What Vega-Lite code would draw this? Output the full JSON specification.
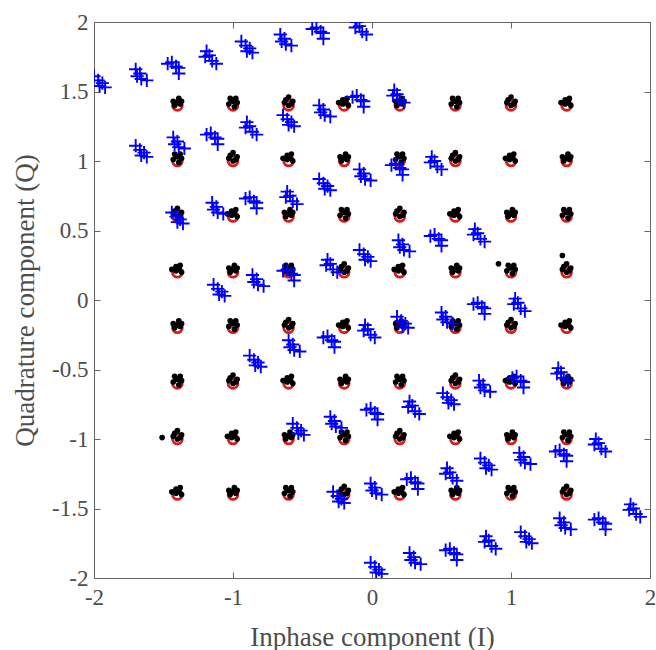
{
"$schema":"https://vega.github.io/schema/vega-lite/v6.json",
"width":556,"height":556,
"autosize":{"type":"none"},
"padding":{"left":94,"top":22,"right":6,"bottom":72},
"background":"white",
"config":{"view":{"stroke":null},
"axis":{"labelFont":"Liberation Serif","titleFont":"Liberation Serif","labelFontSize":23,"titleFontSize":27,"titleFontWeight":"normal","labelColor":"#4d4d4d","titleColor":"#4d4d4d","domainColor":"#666666","tickColor":"#666666","grid":false,"tickSize":-6,"labelFlush":false,"labelOverlap":false,"labelBound":false}},
"datasets":{
"ideal":[
{"x":-1.4,"y":1.4},{"x":-1.0,"y":1.4},{"x":-0.6,"y":1.4},{"x":-0.2,"y":1.4},{"x":0.2,"y":1.4},{"x":0.6,"y":1.4},{"x":1.0,"y":1.4},{"x":1.4,"y":1.4},
{"x":-1.4,"y":1.0},{"x":-1.0,"y":1.0},{"x":-0.6,"y":1.0},{"x":-0.2,"y":1.0},{"x":0.2,"y":1.0},{"x":0.6,"y":1.0},{"x":1.0,"y":1.0},{"x":1.4,"y":1.0},
{"x":-1.4,"y":0.6},{"x":-1.0,"y":0.6},{"x":-0.6,"y":0.6},{"x":-0.2,"y":0.6},{"x":0.2,"y":0.6},{"x":0.6,"y":0.6},{"x":1.0,"y":0.6},{"x":1.4,"y":0.6},
{"x":-1.4,"y":0.2},{"x":-1.0,"y":0.2},{"x":-0.6,"y":0.2},{"x":-0.2,"y":0.2},{"x":0.2,"y":0.2},{"x":0.6,"y":0.2},{"x":1.0,"y":0.2},{"x":1.4,"y":0.2},
{"x":-1.4,"y":-0.2},{"x":-1.0,"y":-0.2},{"x":-0.6,"y":-0.2},{"x":-0.2,"y":-0.2},{"x":0.2,"y":-0.2},{"x":0.6,"y":-0.2},{"x":1.0,"y":-0.2},{"x":1.4,"y":-0.2},
{"x":-1.4,"y":-0.6},{"x":-1.0,"y":-0.6},{"x":-0.6,"y":-0.6},{"x":-0.2,"y":-0.6},{"x":0.2,"y":-0.6},{"x":0.6,"y":-0.6},{"x":1.0,"y":-0.6},{"x":1.4,"y":-0.6},
{"x":-1.4,"y":-1.0},{"x":-1.0,"y":-1.0},{"x":-0.6,"y":-1.0},{"x":-0.2,"y":-1.0},{"x":0.2,"y":-1.0},{"x":0.6,"y":-1.0},{"x":1.0,"y":-1.0},{"x":1.4,"y":-1.0},
{"x":-1.4,"y":-1.4},{"x":-1.0,"y":-1.4},{"x":-0.6,"y":-1.4},{"x":-0.2,"y":-1.4},{"x":0.2,"y":-1.4},{"x":0.6,"y":-1.4},{"x":1.0,"y":-1.4},{"x":1.4,"y":-1.4}
],
"rx":[
{"x":-1.43,"y":1.43},{"x":-1.39,"y":1.45},{"x":-1.38,"y":1.41},{"x":-1.42,"y":1.40},{"x":-1.37,"y":1.43},{"x":-1.40,"y":1.42},
{"x":-1.02,"y":1.45},{"x":-0.97,"y":1.42},{"x":-1.03,"y":1.41},{"x":-0.99,"y":1.39},{"x":-1.00,"y":1.43},{"x":-0.98,"y":1.45},
{"x":-0.60,"y":1.46},{"x":-0.63,"y":1.42},{"x":-0.57,"y":1.43},{"x":-0.60,"y":1.40},{"x":-0.62,"y":1.44},{"x":-0.58,"y":1.41},
{"x":-0.24,"y":1.42},{"x":-0.18,"y":1.45},{"x":-0.17,"y":1.40},{"x":-0.21,"y":1.41},{"x":-0.21,"y":1.44},{"x":-0.19,"y":1.42},
{"x":0.17,"y":1.43},{"x":0.21,"y":1.45},{"x":0.22,"y":1.41},{"x":0.18,"y":1.40},{"x":0.23,"y":1.43},{"x":0.20,"y":1.42},
{"x":0.58,"y":1.45},{"x":0.63,"y":1.42},{"x":0.57,"y":1.41},{"x":0.61,"y":1.39},{"x":0.60,"y":1.43},{"x":0.62,"y":1.45},
{"x":1.00,"y":1.46},{"x":0.97,"y":1.42},{"x":1.03,"y":1.43},{"x":1.00,"y":1.40},{"x":0.98,"y":1.44},{"x":1.02,"y":1.41},
{"x":1.36,"y":1.42},{"x":1.42,"y":1.45},{"x":1.43,"y":1.40},{"x":1.39,"y":1.41},{"x":1.39,"y":1.44},{"x":1.41,"y":1.42},
{"x":-1.42,"y":1.05},{"x":-1.37,"y":1.02},{"x":-1.43,"y":1.01},{"x":-1.39,"y":0.99},{"x":-1.40,"y":1.03},{"x":-1.38,"y":1.05},
{"x":-1.00,"y":1.06},{"x":-1.03,"y":1.02},{"x":-0.97,"y":1.03},{"x":-1.00,"y":1.00},{"x":-1.02,"y":1.04},{"x":-0.98,"y":1.01},
{"x":-0.64,"y":1.02},{"x":-0.58,"y":1.05},{"x":-0.57,"y":1.00},{"x":-0.61,"y":1.01},{"x":-0.61,"y":1.04},{"x":-0.59,"y":1.02},
{"x":-0.23,"y":1.03},{"x":-0.19,"y":1.05},{"x":-0.18,"y":1.01},{"x":-0.22,"y":1.00},{"x":-0.17,"y":1.03},{"x":-0.20,"y":1.02},
{"x":0.18,"y":1.05},{"x":0.23,"y":1.02},{"x":0.17,"y":1.01},{"x":0.21,"y":0.99},{"x":0.20,"y":1.03},{"x":0.22,"y":1.05},
{"x":0.60,"y":1.06},{"x":0.57,"y":1.02},{"x":0.63,"y":1.03},{"x":0.60,"y":1.00},{"x":0.58,"y":1.04},{"x":0.62,"y":1.01},
{"x":0.96,"y":1.02},{"x":1.02,"y":1.05},{"x":1.03,"y":1.00},{"x":0.99,"y":1.01},{"x":0.99,"y":1.04},{"x":1.01,"y":1.02},
{"x":1.37,"y":1.03},{"x":1.41,"y":1.05},{"x":1.42,"y":1.01},{"x":1.38,"y":1.00},{"x":1.43,"y":1.03},{"x":1.40,"y":1.02},
{"x":-1.40,"y":0.66},{"x":-1.43,"y":0.62},{"x":-1.37,"y":0.63},{"x":-1.40,"y":0.60},{"x":-1.42,"y":0.64},{"x":-1.38,"y":0.61},
{"x":-1.04,"y":0.62},{"x":-0.98,"y":0.65},{"x":-0.97,"y":0.60},{"x":-1.01,"y":0.61},{"x":-1.01,"y":0.64},{"x":-0.99,"y":0.62},
{"x":-0.63,"y":0.63},{"x":-0.59,"y":0.65},{"x":-0.58,"y":0.61},{"x":-0.62,"y":0.60},{"x":-0.57,"y":0.63},{"x":-0.60,"y":0.62},
{"x":-0.22,"y":0.65},{"x":-0.17,"y":0.62},{"x":-0.23,"y":0.61},{"x":-0.19,"y":0.59},{"x":-0.20,"y":0.63},{"x":-0.18,"y":0.65},
{"x":0.20,"y":0.66},{"x":0.17,"y":0.62},{"x":0.23,"y":0.63},{"x":0.20,"y":0.60},{"x":0.18,"y":0.64},{"x":0.22,"y":0.61},
{"x":0.56,"y":0.62},{"x":0.62,"y":0.65},{"x":0.63,"y":0.60},{"x":0.59,"y":0.61},{"x":0.59,"y":0.64},{"x":0.61,"y":0.62},
{"x":0.97,"y":0.63},{"x":1.01,"y":0.65},{"x":1.02,"y":0.61},{"x":0.98,"y":0.60},{"x":1.03,"y":0.63},{"x":1.00,"y":0.62},
{"x":1.38,"y":0.65},{"x":1.43,"y":0.62},{"x":1.37,"y":0.61},{"x":1.41,"y":0.59},{"x":1.40,"y":0.63},{"x":1.42,"y":0.65},
{"x":-1.44,"y":0.22},{"x":-1.38,"y":0.25},{"x":-1.37,"y":0.20},{"x":-1.41,"y":0.21},{"x":-1.41,"y":0.24},{"x":-1.39,"y":0.22},
{"x":-1.03,"y":0.23},{"x":-0.99,"y":0.25},{"x":-0.98,"y":0.21},{"x":-1.02,"y":0.20},{"x":-0.97,"y":0.23},{"x":-1.00,"y":0.22},
{"x":-0.62,"y":0.25},{"x":-0.57,"y":0.22},{"x":-0.63,"y":0.21},{"x":-0.59,"y":0.19},{"x":-0.60,"y":0.23},{"x":-0.58,"y":0.25},
{"x":-0.20,"y":0.26},{"x":-0.23,"y":0.22},{"x":-0.17,"y":0.23},{"x":-0.20,"y":0.20},{"x":-0.22,"y":0.24},{"x":-0.18,"y":0.21},
{"x":0.16,"y":0.22},{"x":0.22,"y":0.25},{"x":0.23,"y":0.20},{"x":0.19,"y":0.21},{"x":0.19,"y":0.24},{"x":0.21,"y":0.22},
{"x":0.57,"y":0.23},{"x":0.61,"y":0.25},{"x":0.62,"y":0.21},{"x":0.58,"y":0.20},{"x":0.63,"y":0.23},{"x":0.60,"y":0.22},
{"x":0.98,"y":0.25},{"x":1.03,"y":0.22},{"x":0.97,"y":0.21},{"x":1.01,"y":0.19},{"x":1.00,"y":0.23},{"x":1.02,"y":0.25},
{"x":1.40,"y":0.26},{"x":1.37,"y":0.22},{"x":1.43,"y":0.23},{"x":1.40,"y":0.20},{"x":1.38,"y":0.24},{"x":1.42,"y":0.21},
{"x":-1.43,"y":-0.17},{"x":-1.39,"y":-0.15},{"x":-1.38,"y":-0.19},{"x":-1.42,"y":-0.20},{"x":-1.37,"y":-0.17},{"x":-1.40,"y":-0.18},
{"x":-1.02,"y":-0.15},{"x":-0.97,"y":-0.18},{"x":-1.03,"y":-0.19},{"x":-0.99,"y":-0.21},{"x":-1.00,"y":-0.17},{"x":-0.98,"y":-0.15},
{"x":-0.60,"y":-0.14},{"x":-0.63,"y":-0.18},{"x":-0.57,"y":-0.17},{"x":-0.60,"y":-0.20},{"x":-0.62,"y":-0.16},{"x":-0.58,"y":-0.19},
{"x":-0.24,"y":-0.18},{"x":-0.18,"y":-0.15},{"x":-0.17,"y":-0.20},{"x":-0.21,"y":-0.19},{"x":-0.21,"y":-0.16},{"x":-0.19,"y":-0.18},
{"x":0.17,"y":-0.17},{"x":0.21,"y":-0.15},{"x":0.22,"y":-0.19},{"x":0.18,"y":-0.20},{"x":0.23,"y":-0.17},{"x":0.20,"y":-0.18},
{"x":0.58,"y":-0.15},{"x":0.63,"y":-0.18},{"x":0.57,"y":-0.19},{"x":0.61,"y":-0.21},{"x":0.60,"y":-0.17},{"x":0.62,"y":-0.15},
{"x":1.00,"y":-0.14},{"x":0.97,"y":-0.18},{"x":1.03,"y":-0.17},{"x":1.00,"y":-0.20},{"x":0.98,"y":-0.16},{"x":1.02,"y":-0.19},
{"x":1.36,"y":-0.18},{"x":1.42,"y":-0.15},{"x":1.43,"y":-0.20},{"x":1.39,"y":-0.19},{"x":1.39,"y":-0.16},{"x":1.41,"y":-0.18},
{"x":-1.42,"y":-0.55},{"x":-1.37,"y":-0.58},{"x":-1.43,"y":-0.59},{"x":-1.39,"y":-0.61},{"x":-1.40,"y":-0.57},{"x":-1.38,"y":-0.55},
{"x":-1.00,"y":-0.54},{"x":-1.03,"y":-0.58},{"x":-0.97,"y":-0.57},{"x":-1.00,"y":-0.60},{"x":-1.02,"y":-0.56},{"x":-0.98,"y":-0.59},
{"x":-0.64,"y":-0.58},{"x":-0.58,"y":-0.55},{"x":-0.57,"y":-0.60},{"x":-0.61,"y":-0.59},{"x":-0.61,"y":-0.56},{"x":-0.59,"y":-0.58},
{"x":-0.23,"y":-0.57},{"x":-0.19,"y":-0.55},{"x":-0.18,"y":-0.59},{"x":-0.22,"y":-0.60},{"x":-0.17,"y":-0.57},{"x":-0.20,"y":-0.58},
{"x":0.18,"y":-0.55},{"x":0.23,"y":-0.58},{"x":0.17,"y":-0.59},{"x":0.21,"y":-0.61},{"x":0.20,"y":-0.57},{"x":0.22,"y":-0.55},
{"x":0.60,"y":-0.54},{"x":0.57,"y":-0.58},{"x":0.63,"y":-0.57},{"x":0.60,"y":-0.60},{"x":0.58,"y":-0.56},{"x":0.62,"y":-0.59},
{"x":0.96,"y":-0.58},{"x":1.02,"y":-0.55},{"x":1.03,"y":-0.60},{"x":0.99,"y":-0.59},{"x":0.99,"y":-0.56},{"x":1.01,"y":-0.58},
{"x":1.37,"y":-0.57},{"x":1.41,"y":-0.55},{"x":1.42,"y":-0.59},{"x":1.38,"y":-0.60},{"x":1.43,"y":-0.57},{"x":1.40,"y":-0.58},
{"x":-1.40,"y":-0.94},{"x":-1.43,"y":-0.98},{"x":-1.37,"y":-0.97},{"x":-1.40,"y":-1.00},{"x":-1.42,"y":-0.96},{"x":-1.38,"y":-0.99},
{"x":-1.04,"y":-0.98},{"x":-0.98,"y":-0.95},{"x":-0.97,"y":-1.00},{"x":-1.01,"y":-0.99},{"x":-1.01,"y":-0.96},{"x":-0.99,"y":-0.98},
{"x":-0.63,"y":-0.97},{"x":-0.59,"y":-0.95},{"x":-0.58,"y":-0.99},{"x":-0.62,"y":-1.00},{"x":-0.57,"y":-0.97},{"x":-0.60,"y":-0.98},
{"x":-0.22,"y":-0.95},{"x":-0.17,"y":-0.98},{"x":-0.23,"y":-0.99},{"x":-0.19,"y":-1.01},{"x":-0.20,"y":-0.97},{"x":-0.18,"y":-0.95},
{"x":0.20,"y":-0.94},{"x":0.17,"y":-0.98},{"x":0.23,"y":-0.97},{"x":0.20,"y":-1.00},{"x":0.18,"y":-0.96},{"x":0.22,"y":-0.99},
{"x":0.56,"y":-0.98},{"x":0.62,"y":-0.95},{"x":0.63,"y":-1.00},{"x":0.59,"y":-0.99},{"x":0.59,"y":-0.96},{"x":0.61,"y":-0.98},
{"x":0.97,"y":-0.97},{"x":1.01,"y":-0.95},{"x":1.02,"y":-0.99},{"x":0.98,"y":-1.00},{"x":1.03,"y":-0.97},{"x":1.00,"y":-0.98},
{"x":1.38,"y":-0.95},{"x":1.43,"y":-0.98},{"x":1.37,"y":-0.99},{"x":1.41,"y":-1.01},{"x":1.40,"y":-0.97},{"x":1.42,"y":-0.95},
{"x":-1.44,"y":-1.38},{"x":-1.38,"y":-1.35},{"x":-1.37,"y":-1.40},{"x":-1.41,"y":-1.39},{"x":-1.41,"y":-1.36},{"x":-1.39,"y":-1.38},
{"x":-1.03,"y":-1.37},{"x":-0.99,"y":-1.35},{"x":-0.98,"y":-1.39},{"x":-1.02,"y":-1.40},{"x":-0.97,"y":-1.37},{"x":-1.00,"y":-1.38},
{"x":-0.62,"y":-1.35},{"x":-0.57,"y":-1.38},{"x":-0.63,"y":-1.39},{"x":-0.59,"y":-1.41},{"x":-0.60,"y":-1.37},{"x":-0.58,"y":-1.35},
{"x":-0.20,"y":-1.34},{"x":-0.23,"y":-1.38},{"x":-0.17,"y":-1.37},{"x":-0.20,"y":-1.40},{"x":-0.22,"y":-1.36},{"x":-0.18,"y":-1.39},
{"x":0.16,"y":-1.38},{"x":0.22,"y":-1.35},{"x":0.23,"y":-1.40},{"x":0.19,"y":-1.39},{"x":0.19,"y":-1.36},{"x":0.21,"y":-1.38},
{"x":0.57,"y":-1.37},{"x":0.61,"y":-1.35},{"x":0.62,"y":-1.39},{"x":0.58,"y":-1.40},{"x":0.63,"y":-1.37},{"x":0.60,"y":-1.38},
{"x":0.98,"y":-1.35},{"x":1.03,"y":-1.38},{"x":0.97,"y":-1.39},{"x":1.01,"y":-1.41},{"x":1.00,"y":-1.37},{"x":1.02,"y":-1.35},
{"x":1.40,"y":-1.34},{"x":1.37,"y":-1.38},{"x":1.43,"y":-1.37},{"x":1.40,"y":-1.40},{"x":1.38,"y":-1.36},{"x":1.42,"y":-1.39},
{"x":-1.51,"y":-0.99},{"x":0.91,"y":0.26},{"x":1.37,"y":0.32}
],
"blue":[
{"x":-2.00,"y":1.61},{"x":-1.97,"y":1.58},{"x":-1.94,"y":1.56},{"x":-1.92,"y":1.53},{"x":-1.96,"y":1.54},
{"x":-1.70,"y":1.66},{"x":-1.67,"y":1.63},{"x":-1.66,"y":1.59},{"x":-1.62,"y":1.58},{"x":-1.69,"y":1.61},
{"x":-1.47,"y":1.70},{"x":-1.44,"y":1.71},{"x":-1.41,"y":1.68},{"x":-1.39,"y":1.63},{"x":-1.39,"y":1.67},
{"x":-1.19,"y":1.79},{"x":-1.20,"y":1.75},{"x":-1.17,"y":1.76},{"x":-1.15,"y":1.72},{"x":-1.12,"y":1.70},
{"x":-0.94,"y":1.86},{"x":-0.91,"y":1.83},{"x":-0.88,"y":1.81},{"x":-0.86,"y":1.78},{"x":-0.90,"y":1.79},
{"x":-0.66,"y":1.91},{"x":-0.63,"y":1.88},{"x":-0.62,"y":1.84},{"x":-0.58,"y":1.83},{"x":-0.65,"y":1.86},
{"x":-0.43,"y":1.95},{"x":-0.40,"y":1.96},{"x":-0.37,"y":1.93},{"x":-0.35,"y":1.88},{"x":-0.35,"y":1.92},
{"x":-0.11,"y":2.00},{"x":-0.12,"y":1.96},{"x":-0.09,"y":1.97},{"x":-0.07,"y":1.93},{"x":-0.04,"y":1.91},
{"x":-1.70,"y":1.11},{"x":-1.67,"y":1.08},{"x":-1.64,"y":1.06},{"x":-1.62,"y":1.03},{"x":-1.66,"y":1.04},
{"x":-1.43,"y":1.17},{"x":-1.40,"y":1.14},{"x":-1.39,"y":1.10},{"x":-1.35,"y":1.09},{"x":-1.42,"y":1.12},
{"x":-1.19,"y":1.19},{"x":-1.16,"y":1.20},{"x":-1.13,"y":1.17},{"x":-1.11,"y":1.12},{"x":-1.11,"y":1.16},
{"x":-0.90,"y":1.28},{"x":-0.91,"y":1.24},{"x":-0.88,"y":1.25},{"x":-0.86,"y":1.21},{"x":-0.83,"y":1.19},
{"x":-0.64,"y":1.33},{"x":-0.61,"y":1.30},{"x":-0.58,"y":1.28},{"x":-0.56,"y":1.25},{"x":-0.60,"y":1.26},
{"x":-0.38,"y":1.40},{"x":-0.35,"y":1.37},{"x":-0.34,"y":1.33},{"x":-0.30,"y":1.32},{"x":-0.37,"y":1.35},
{"x":-0.14,"y":1.46},{"x":-0.11,"y":1.47},{"x":-0.08,"y":1.44},{"x":-0.06,"y":1.39},{"x":-0.06,"y":1.43},
{"x":0.16,"y":1.51},{"x":0.15,"y":1.47},{"x":0.18,"y":1.48},{"x":0.20,"y":1.44},{"x":0.23,"y":1.42},
{"x":-1.44,"y":0.63},{"x":-1.41,"y":0.60},{"x":-1.38,"y":0.58},{"x":-1.36,"y":0.55},{"x":-1.40,"y":0.56},
{"x":-1.15,"y":0.70},{"x":-1.12,"y":0.67},{"x":-1.11,"y":0.63},{"x":-1.07,"y":0.62},{"x":-1.14,"y":0.65},
{"x":-0.91,"y":0.73},{"x":-0.88,"y":0.74},{"x":-0.85,"y":0.71},{"x":-0.83,"y":0.66},{"x":-0.83,"y":0.70},
{"x":-0.61,"y":0.78},{"x":-0.62,"y":0.74},{"x":-0.59,"y":0.75},{"x":-0.57,"y":0.71},{"x":-0.54,"y":0.69},
{"x":-0.38,"y":0.87},{"x":-0.35,"y":0.84},{"x":-0.32,"y":0.82},{"x":-0.30,"y":0.79},{"x":-0.34,"y":0.80},
{"x":-0.09,"y":0.94},{"x":-0.06,"y":0.91},{"x":-0.05,"y":0.87},{"x":-0.01,"y":0.86},{"x":-0.08,"y":0.89},
{"x":0.14,"y":0.97},{"x":0.17,"y":0.98},{"x":0.20,"y":0.95},{"x":0.22,"y":0.90},{"x":0.22,"y":0.94},
{"x":0.43,"y":1.03},{"x":0.42,"y":0.99},{"x":0.45,"y":1.00},{"x":0.47,"y":0.96},{"x":0.50,"y":0.94},
{"x":-1.14,"y":0.11},{"x":-1.11,"y":0.08},{"x":-1.08,"y":0.06},{"x":-1.06,"y":0.03},{"x":-1.10,"y":0.04},
{"x":-0.86,"y":0.18},{"x":-0.83,"y":0.15},{"x":-0.82,"y":0.11},{"x":-0.78,"y":0.10},{"x":-0.85,"y":0.13},
{"x":-0.64,"y":0.21},{"x":-0.61,"y":0.22},{"x":-0.58,"y":0.19},{"x":-0.56,"y":0.14},{"x":-0.56,"y":0.18},
{"x":-0.32,"y":0.29},{"x":-0.33,"y":0.25},{"x":-0.30,"y":0.26},{"x":-0.28,"y":0.22},{"x":-0.25,"y":0.20},
{"x":-0.09,"y":0.36},{"x":-0.06,"y":0.33},{"x":-0.03,"y":0.31},{"x":-0.01,"y":0.28},{"x":-0.05,"y":0.29},
{"x":0.19,"y":0.43},{"x":0.22,"y":0.40},{"x":0.23,"y":0.36},{"x":0.27,"y":0.35},{"x":0.20,"y":0.38},
{"x":0.42,"y":0.46},{"x":0.45,"y":0.47},{"x":0.48,"y":0.44},{"x":0.50,"y":0.39},{"x":0.50,"y":0.43},
{"x":0.74,"y":0.51},{"x":0.73,"y":0.47},{"x":0.76,"y":0.48},{"x":0.78,"y":0.44},{"x":0.81,"y":0.42},
{"x":-0.88,"y":-0.40},{"x":-0.85,"y":-0.43},{"x":-0.82,"y":-0.45},{"x":-0.80,"y":-0.48},{"x":-0.84,"y":-0.47},
{"x":-0.60,"y":-0.29},{"x":-0.57,"y":-0.32},{"x":-0.56,"y":-0.36},{"x":-0.52,"y":-0.37},{"x":-0.59,"y":-0.34},
{"x":-0.35,"y":-0.27},{"x":-0.32,"y":-0.26},{"x":-0.29,"y":-0.29},{"x":-0.27,"y":-0.34},{"x":-0.27,"y":-0.30},
{"x":-0.05,"y":-0.18},{"x":-0.06,"y":-0.22},{"x":-0.03,"y":-0.21},{"x":-0.01,"y":-0.25},{"x":0.02,"y":-0.27},
{"x":0.18,"y":-0.12},{"x":0.21,"y":-0.15},{"x":0.24,"y":-0.17},{"x":0.26,"y":-0.20},{"x":0.22,"y":-0.19},
{"x":0.50,"y":-0.09},{"x":0.53,"y":-0.12},{"x":0.54,"y":-0.16},{"x":0.58,"y":-0.17},{"x":0.51,"y":-0.14},
{"x":0.73,"y":-0.03},{"x":0.76,"y":-0.02},{"x":0.79,"y":-0.05},{"x":0.81,"y":-0.10},{"x":0.81,"y":-0.06},
{"x":1.03,"y":0.01},{"x":1.02,"y":-0.03},{"x":1.05,"y":-0.02},{"x":1.07,"y":-0.06},{"x":1.10,"y":-0.08},
{"x":-0.57,"y":-0.89},{"x":-0.54,"y":-0.92},{"x":-0.51,"y":-0.94},{"x":-0.49,"y":-0.97},{"x":-0.53,"y":-0.96},
{"x":-0.30,"y":-0.84},{"x":-0.27,"y":-0.87},{"x":-0.26,"y":-0.91},{"x":-0.22,"y":-0.92},{"x":-0.29,"y":-0.89},
{"x":-0.04,"y":-0.79},{"x":-0.01,"y":-0.78},{"x":0.02,"y":-0.81},{"x":0.04,"y":-0.86},{"x":0.04,"y":-0.82},
{"x":0.27,"y":-0.73},{"x":0.26,"y":-0.77},{"x":0.29,"y":-0.76},{"x":0.31,"y":-0.80},{"x":0.34,"y":-0.82},
{"x":0.51,"y":-0.67},{"x":0.54,"y":-0.70},{"x":0.57,"y":-0.72},{"x":0.59,"y":-0.75},{"x":0.55,"y":-0.74},
{"x":0.77,"y":-0.58},{"x":0.80,"y":-0.61},{"x":0.81,"y":-0.65},{"x":0.85,"y":-0.66},{"x":0.78,"y":-0.63},
{"x":1.01,"y":-0.56},{"x":1.04,"y":-0.55},{"x":1.07,"y":-0.58},{"x":1.09,"y":-0.63},{"x":1.09,"y":-0.59},
{"x":1.34,"y":-0.49},{"x":1.33,"y":-0.53},{"x":1.36,"y":-0.52},{"x":1.38,"y":-0.56},{"x":1.41,"y":-0.58},
{"x":-0.28,"y":-1.38},{"x":-0.25,"y":-1.41},{"x":-0.22,"y":-1.43},{"x":-0.20,"y":-1.46},{"x":-0.24,"y":-1.45},
{"x":-0.01,"y":-1.32},{"x":0.02,"y":-1.35},{"x":0.03,"y":-1.39},{"x":0.07,"y":-1.40},{"x":0.00,"y":-1.37},
{"x":0.25,"y":-1.29},{"x":0.28,"y":-1.28},{"x":0.31,"y":-1.31},{"x":0.33,"y":-1.36},{"x":0.33,"y":-1.32},
{"x":0.54,"y":-1.21},{"x":0.53,"y":-1.25},{"x":0.56,"y":-1.24},{"x":0.58,"y":-1.28},{"x":0.61,"y":-1.30},
{"x":0.78,"y":-1.14},{"x":0.81,"y":-1.17},{"x":0.84,"y":-1.19},{"x":0.86,"y":-1.22},{"x":0.82,"y":-1.21},
{"x":1.06,"y":-1.10},{"x":1.09,"y":-1.13},{"x":1.10,"y":-1.17},{"x":1.14,"y":-1.18},{"x":1.07,"y":-1.15},
{"x":1.32,"y":-1.09},{"x":1.35,"y":-1.08},{"x":1.38,"y":-1.11},{"x":1.40,"y":-1.16},{"x":1.40,"y":-1.12},
{"x":1.61,"y":-1.00},{"x":1.60,"y":-1.04},{"x":1.63,"y":-1.03},{"x":1.65,"y":-1.07},{"x":1.68,"y":-1.09},
{"x":-0.01,"y":-1.89},{"x":0.02,"y":-1.92},{"x":0.05,"y":-1.94},{"x":0.07,"y":-1.97},{"x":0.03,"y":-1.96},
{"x":0.27,"y":-1.82},{"x":0.30,"y":-1.85},{"x":0.31,"y":-1.89},{"x":0.35,"y":-1.90},{"x":0.28,"y":-1.87},
{"x":0.53,"y":-1.80},{"x":0.56,"y":-1.79},{"x":0.59,"y":-1.82},{"x":0.61,"y":-1.87},{"x":0.61,"y":-1.83},
{"x":0.82,"y":-1.70},{"x":0.81,"y":-1.74},{"x":0.84,"y":-1.73},{"x":0.86,"y":-1.77},{"x":0.89,"y":-1.79},
{"x":1.07,"y":-1.67},{"x":1.10,"y":-1.70},{"x":1.13,"y":-1.72},{"x":1.15,"y":-1.75},{"x":1.11,"y":-1.74},
{"x":1.35,"y":-1.57},{"x":1.38,"y":-1.60},{"x":1.39,"y":-1.64},{"x":1.43,"y":-1.65},{"x":1.36,"y":-1.62},
{"x":1.60,"y":-1.58},{"x":1.63,"y":-1.57},{"x":1.66,"y":-1.60},{"x":1.68,"y":-1.65},{"x":1.68,"y":-1.61},
{"x":1.86,"y":-1.47},{"x":1.85,"y":-1.51},{"x":1.88,"y":-1.50},{"x":1.90,"y":-1.54},{"x":1.93,"y":-1.56}
]},
"layer":[
{"data":{"name":"ideal"},
"mark":{"type":"point","shape":"circle","filled":false,"color":"#d81c1c","strokeWidth":2.8,"size":95,"opacity":1,"clip":true},
"encoding":{
"x":{"field":"x","type":"quantitative","scale":{"domain":[-2,2],"nice":false,"zero":false},
"axis":{"orient":"bottom","values":[-2,-1,0,1,2],"labelExpr":"toString(datum.value)","labelPadding":14,"title":"Inphase component (I)","titleX":278,"titleY":67,"titleAnchor":null,"titleAlign":"center","titleBaseline":"alphabetic"}},
"y":{"field":"y","type":"quantitative","scale":{"domain":[-2,2],"nice":false,"zero":false},
"axis":{"orient":"left","values":[-2,-1.5,-1,-0.5,0,0.5,1,1.5,2],"labelExpr":"toString(datum.value)","labelPadding":12,"title":"Quadrature component (Q)","titleX":-61,"titleY":278,"titleAngle":-90,"titleAlign":"center","titleBaseline":"alphabetic"}}}},
{"data":{"name":"rx"},
"mark":{"type":"point","shape":"circle","filled":true,"color":"#000000","size":32,"opacity":1,"clip":true},
"encoding":{
"x":{"field":"x","type":"quantitative","scale":{"domain":[-2,2],"nice":false,"zero":false},
"axis":{"orient":"top","values":[-2,-1,0,1,2],"labels":false,"title":null}},
"y":{"field":"y","type":"quantitative","scale":{"domain":[-2,2],"nice":false,"zero":false},
"axis":{"orient":"right","values":[-2,-1.5,-1,-0.5,0,0.5,1,1.5,2],"labels":false,"title":null}}}},
{"data":{"name":"blue"},
"mark":{"type":"point","shape":"M-1,0H1M0,-1V1","filled":false,"color":"#0000ff","strokeWidth":1.9,"size":175,"opacity":1,"clip":true},
"encoding":{
"x":{"field":"x","type":"quantitative","scale":{"domain":[-2,2],"nice":false,"zero":false},"axis":null},
"y":{"field":"y","type":"quantitative","scale":{"domain":[-2,2],"nice":false,"zero":false},"axis":null}}}
],
"resolve":{"scale":{"x":"independent","y":"independent"}}
}
